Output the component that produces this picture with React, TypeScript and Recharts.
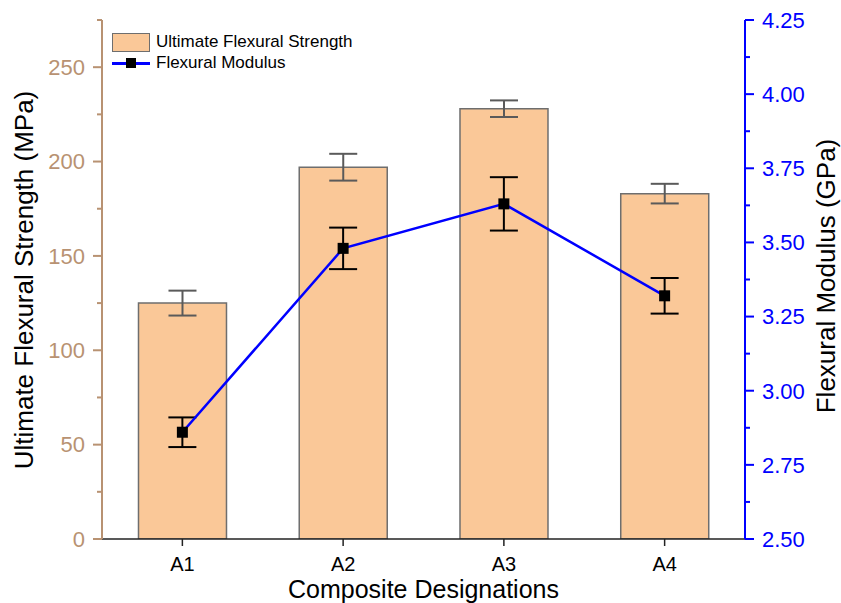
import { ComposedChart, Bar, Line, ErrorBar, XAxis, YAxis, Legend, Label } from 'recharts';

// Composite designations and measured properties (mean ± std dev)
const categories = ['A1', 'A2', 'A3', 'A4'];
const strength = [125, 197, 228, 183]; // MPa
const strengthErr = [6.6, 7.1, 4.4, 5.2];
const modulus = [2.86, 3.48, 3.63, 3.32]; // GPa
const modulusErr = [0.05, 0.07, 0.09, 0.06];

const strengthTicks = [0, 25, 50, 75, 100, 125, 150, 175, 200, 225, 250, 275];
const modulusTicks = [2.5, 2.625, 2.75, 2.875, 3.0, 3.125, 3.25, 3.375, 3.5, 3.625, 3.75, 3.875, 4.0, 4.125, 4.25];

const data = categories.map((name, i) => ({
  name,
  strength: strength[i],
  strengthErr: strengthErr[i],
  modulus: modulus[i],
  modulusErr: modulusErr[i],
}));

const FONT = '"Liberation Sans", Arial, Helvetica, sans-serif';
const BROWN = '#B89272';
const BLUE = '#0000FF';
const BAR_FILL = '#FAC898';
const BAR_STROKE = '#6E6E6E';

// Left axis: majors every 50 get a label, minors every 25 only a short tick
const LeftTick = ({ x, y, payload }: any) => {
  const major = payload.value % 50 === 0;
  return (
    <g>
      <line x1={x} x2={x - (major ? 9 : 5)} y1={y} y2={y} stroke={BROWN} strokeWidth={2} />
      {major && (
        <text x={x - 17} y={y} dy="0.355em" textAnchor="end" fill={BROWN} fontSize={22} fontFamily={FONT}>
          {payload.value}
        </text>
      )}
    </g>
  );
};

const RightTick = ({ x, y, payload }: any) => {
  const v = payload.value * 4;
  const major = Math.abs(v - Math.round(v)) < 1e-6;
  return (
    <g>
      <line x1={x} x2={x + (major ? 9 : 5)} y1={y} y2={y} stroke={BLUE} strokeWidth={2} />
      {major && (
        <text x={x + 17} y={y} dy="0.355em" textAnchor="start" fill={BLUE} fontSize={22} fontFamily={FONT}>
          {payload.value.toFixed(2)}
        </text>
      )}
    </g>
  );
};

const SquareDot = ({ cx, cy, index }: any) => (
  <rect key={`dot-${index}`} x={cx - 5.5} y={cy - 5.5} width={11} height={11} fill="#000" />
);

const legendText = { position: 'absolute' as const, left: 156, lineHeight: '20px', whiteSpace: 'nowrap' as const, fontSize: '17px', fontFamily: FONT, color: '#000' };

const renderLegend = () => (
  <div style={{ position: 'relative', width: 360, height: 75 }}>
    <div style={{ position: 'absolute', left: 112, top: 33, width: 36, height: 17, background: BAR_FILL, border: `1.5px solid ${BAR_STROKE}` }} />
    <div style={{ ...legendText, top: 32 }}>Ultimate Flexural Strength</div>
    <div style={{ position: 'absolute', left: 112, top: 62, width: 38, height: 2.5, background: BLUE }} />
    <div style={{ position: 'absolute', left: 126, top: 58, width: 10, height: 10, background: '#000' }} />
    <div style={{ ...legendText, top: 53 }}>Flexural Modulus</div>
  </div>
);

const rotatedTitle = (text: string, x: number, y: number) => () => (
  <text x={x} y={y} transform={`rotate(-90 ${x} ${y})`} textAnchor="middle" fontSize={26} fontFamily={FONT} fill="#000">
    {text}
  </text>
);

export default function App() {
  return (
    <div style={{ position: 'absolute', left: 0, top: 0, background: '#fff' }}>
      <ComposedChart width={841} height={603} data={data} margin={{ top: 20, right: 0, bottom: 0, left: 0 }} barCategoryGap="22.7%">
        <XAxis
          dataKey="name"
          height={64}
          stroke="#222"
          strokeWidth={1.5}
          tickSize={7}
          tickMargin={11}
          tickLine={{ stroke: '#222', strokeWidth: 1.5 }}
          tick={{ fill: '#000', fontSize: 20, fontFamily: FONT }}
          interval={0}
        >
          <Label value="Composite Designations" position="insideBottom" offset={5} fill="#000" fontSize={25} fontFamily={FONT} />
        </XAxis>
        <YAxis
          yAxisId="left"
          orientation="left"
          width={102}
          domain={[0, 275]}
          ticks={strengthTicks}
          interval={0}
          allowDataOverflow
          stroke={BROWN}
          strokeWidth={2}
          tickLine={false}
          tickSize={0}
          tickMargin={0}
          tick={<LeftTick />}
        >
          <Label content={rotatedTitle('Ultimate Flexural Strength (MPa)', 33, 280)} />
        </YAxis>
        <YAxis
          yAxisId="right"
          orientation="right"
          width={96}
          domain={[2.5, 4.25]}
          ticks={modulusTicks}
          interval={0}
          allowDataOverflow
          stroke={BLUE}
          strokeWidth={2}
          tickLine={false}
          tickSize={0}
          tickMargin={0}
          tick={<RightTick />}
        >
          <Label content={rotatedTitle('Flexural Modulus (GPa)', 835, 276)} />
        </YAxis>
        <Legend
          content={renderLegend}
          layout="vertical"
          align="center"
          verticalAlign="middle"
          wrapperStyle={{ left: 0, top: 0, width: 360, height: 75 }}
        />
        <Bar yAxisId="left" dataKey="strength" fill={BAR_FILL} stroke={BAR_STROKE} strokeWidth={1.5} isAnimationActive={false}>
          <ErrorBar dataKey="strengthErr" width={14} stroke="#5A5A5A" strokeWidth={2} direction="y" />
        </Bar>
        <Line
          yAxisId="right"
          dataKey="modulus"
          stroke={BLUE}
          strokeWidth={2.5}
          dot={<SquareDot />}
          activeDot={false}
          isAnimationActive={false}
        >
          <ErrorBar dataKey="modulusErr" width={14} stroke="#000" strokeWidth={2} direction="y" />
        </Line>
      </ComposedChart>
    </div>
  );
}
